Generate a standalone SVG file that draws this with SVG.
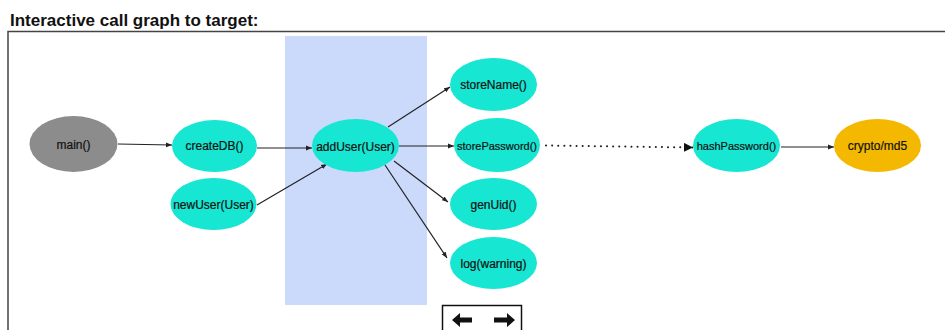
<svg xmlns="http://www.w3.org/2000/svg" width="945" height="330" viewBox="0 0 945 330">
<style>
.title{font-family:"Liberation Sans",Arial,sans-serif;font-weight:bold;font-size:17px;fill:#111}
.lbl{font-family:"Liberation Sans",Arial,sans-serif;font-size:12px;fill:#111;stroke:#111;stroke-width:0.2;text-anchor:middle;dominant-baseline:central}
.sm{font-size:11px}
.fn{fill:#17e6d2}
.edge{stroke:#222;stroke-width:1.2;fill:none;marker-end:url(#ah)}
.dot{stroke:#222;stroke-width:2;fill:none;stroke-dasharray:0.1 6;stroke-linecap:round;marker-end:url(#ahb)}
</style>
<defs>
<marker id="ah" viewBox="0 0 10 10" refX="10" refY="5" markerWidth="6" markerHeight="6" markerUnits="userSpaceOnUse" orient="auto"><path d="M0,1 L10,5 L0,9 z" fill="#222"/></marker>
<marker id="ahb" viewBox="0 0 10 10" refX="10" refY="5" markerWidth="9" markerHeight="9" markerUnits="userSpaceOnUse" orient="auto"><path d="M0,0 L10,5 L0,10 z" fill="#111"/></marker>
</defs>
<rect width="945" height="330" fill="#fff"/>
<text class="title" x="10" y="26">Interactive call graph to target:</text>
<path d="M8,330 V31.5 H945" fill="none" stroke="#444" stroke-width="1.5"/>
<rect x="285" y="36" width="142" height="269" fill="#cbdafa"/>
<g id="connectors">
<line class="edge" x1="118" y1="144" x2="172" y2="145"/>
<line class="edge" x1="257" y1="148" x2="312" y2="148"/>
<line class="edge" x1="257" y1="205" x2="327" y2="164"/>
<line class="edge" x1="388" y1="127" x2="450" y2="87"/>
<line class="edge" x1="399" y1="146" x2="454" y2="146"/>
<line class="edge" x1="394" y1="161" x2="448" y2="202"/>
<line class="edge" x1="385" y1="165" x2="447" y2="258"/>
<line class="dot" x1="546" y1="145.5" x2="693" y2="147.5"/>
<line class="edge" x1="781" y1="147" x2="834" y2="147"/>
</g>
<g id="main"><ellipse cx="73.5" cy="144" rx="44" ry="28" fill="#8c8c8c"/><text class="lbl" x="73.5" y="145">main()</text></g>
<g id="createDB"><ellipse class="fn" cx="214.5" cy="146" rx="42.5" ry="26"/><text class="lbl" x="214.5" y="146">createDB()</text></g>
<g id="newUser"><ellipse class="fn" cx="213.5" cy="204" rx="43" ry="26"/><text class="lbl" x="213.5" y="205">newUser(User)</text></g>
<g id="addUser"><ellipse class="fn" cx="355.5" cy="145.5" rx="43.5" ry="26.5"/><text class="lbl" x="355.5" y="147">addUser(User)</text></g>
<g id="storeName"><ellipse class="fn" cx="493.5" cy="84.5" rx="43.5" ry="26.5"/><text class="lbl" x="493.5" y="85">storeName()</text></g>
<g id="storePassword"><ellipse class="fn" cx="497" cy="145" rx="43" ry="27"/><text class="lbl sm" x="497" y="146">storePassword()</text></g>
<g id="genUid"><ellipse class="fn" cx="493.5" cy="204" rx="43.5" ry="26"/><text class="lbl" x="493.5" y="205">genUid()</text></g>
<g id="log"><ellipse class="fn" cx="493.5" cy="263" rx="43.5" ry="26"/><text class="lbl" x="493.5" y="264">log(warning)</text></g>
<g id="hashPassword"><ellipse class="fn" cx="736.5" cy="145.5" rx="43.5" ry="26.5"/><text class="lbl sm" x="736.5" y="146">hashPassword()</text></g>
<g id="crypto"><ellipse cx="877.5" cy="145.5" rx="43.5" ry="26.5" fill="#f5b800"/><text class="lbl" x="877.5" y="146">crypto/md5</text></g>
<g id="nav">
<rect x="442.5" y="305.5" width="79" height="30" fill="#fff" stroke="#111" stroke-width="1.5"/>
<path d="M452,320 L460,313 V317.5 H472 V322.5 H460 V327 z" fill="#111"/>
<path d="M515,320 L507,313 V317.5 H494 V322.5 H507 V327 z" fill="#111"/>
</g>
</svg>
